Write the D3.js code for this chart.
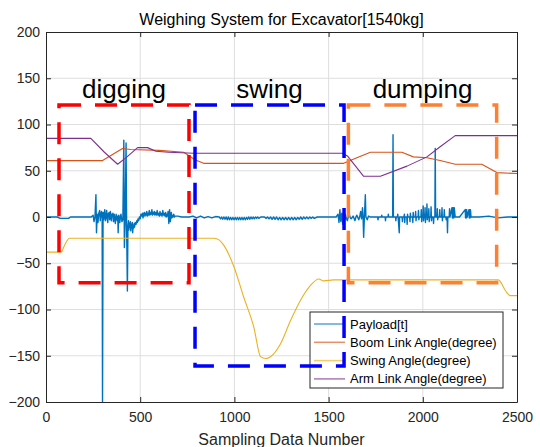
<!DOCTYPE html>
<html>
<head>
<meta charset="utf-8">
<script src="https://cdn.jsdelivr.net/npm/d3@7"></script>
<style>
  body { margin: 0; background: #fff; }
  svg { font-family: "Liberation Sans", Arial, sans-serif; }
</style>
</head>
<body>
<div id="chart"></div>
<script>
// ---- data ----
const title = 'Weighing System for Excavator[1540kg]';
const xLabel = 'Sampling Data Number';
const xTicks = [0, 500, 1000, 1500, 2000, 2500];
const yTicks = [-200, -150, -100, -50, 0, 50, 100, 150, 200];
const seriesNames = ['Payload[t]', 'Boom Link Angle(degree)', 'Swing Angle(degree)', 'Arm Link Angle(degree)'];
const seriesColors = ['#0072BD', '#D95319', '#EDB120', '#7E2F8E'];

const payload = [
  [0, 0], [60, 0], [75, -1.5], [120, -1.5], [130, 0], [240, 0], [250, 2], [255, -5], [260, 0],
  [265, 24], [268, -17], [272, 3], [276, -6], [280, 4], [285, 7], [288, -4], [291, 3], [295, 6],
  [298, -2], [300, -200], [303, 5], [306, -3], [308, 2], [312, 8], [315, -4], [318, -1], [322, 7],
  [325, -2], [328, -6], [331, 4], [333, 1], [336, 5], [338, -3], [342, 6], [345, -1], [347, -4],
  [350, 3], [352, 1], [355, 4], [358, -5], [362, 3], [365, -2], [368, -7], [372, 3], [375, -1],
  [378, -4], [381, 1], [383, -17], [386, 2], [389, -3], [392, -6], [395, 1], [398, 3], [403, -5],
  [408, -3], [413, 83], [416, -33], [420, -8], [425, 80], [428, -12], [432, -80], [435, -10],
  [438, -4], [440, -14], [443, -7], [445, -11], [448, -5], [450, -15], [453, -8], [455, -12],
  [458, -6], [460, -17], [463, -9], [465, -12], [468, -7], [470, -11], [474, -6], [478, -8],
  [482, -4], [485, -6], [488, -2], [492, -4], [496, 0], [500, -2], [504, 3], [508, 1], [512, 4],
  [515, -1], [518, 3], [522, 5], [525, 1], [528, 4], [532, 2], [535, 6], [538, 1], [542, 4],
  [545, 2], [548, 7], [552, 2], [555, 5], [558, 3], [562, 8], [565, 2], [568, 5], [572, 3],
  [575, 6], [578, 2], [582, 5], [586, 2], [590, 7], [594, 2], [598, 4], [602, 1], [605, 6],
  [608, 2], [612, 4], [616, 1], [620, 7], [624, 2], [628, 4], [632, 1], [635, 5], [638, 0],
  [642, 3], [645, 1], [648, 6], [652, -7], [656, 8], [660, -5], [663, 2], [665, 5], [668, -1],
  [670, 2], [674, 0], [678, 3], [682, 0], [685, 1], [700, 1], [720, 0], [760, 0], [780, 1],
  [800, -1], [820, 1], [840, -1], [860, 0.5], [880, -1], [900, 0.5], [920, 0], [926, -2],
  [932, 0], [938, -2.5], [944, 0], [950, -2.5], [956, 0], [962, -3], [968, 0], [974, -3],
  [980, -0.5], [986, -3], [992, -0.5], [998, -3], [1004, -0.5], [1010, -3], [1016, -0.5],
  [1022, -3], [1028, -0.5], [1034, -3], [1040, -0.5], [1046, -3], [1052, -0.5], [1058, -3],
  [1064, -0.5], [1070, -2.5], [1076, 0], [1082, -2.5], [1088, 0], [1094, -2], [1100, 0],
  [1106, -2], [1112, 0], [1118, -1.5], [1124, 0], [1130, -1.5], [1140, 0], [1160, 0], [1168, -1.5],
  [1176, 0], [1184, -2], [1192, 0], [1200, -2.5], [1208, 0], [1216, -2.5], [1224, 0], [1232, -3],
  [1240, -0.5], [1248, -3], [1256, -0.5], [1264, -3], [1272, -0.5], [1280, -3], [1288, -0.5],
  [1296, -3], [1304, -0.5], [1312, -3], [1320, -0.5], [1328, -3], [1336, -0.5], [1344, -2.5],
  [1352, 0], [1360, -2.5], [1368, 0], [1376, -2], [1384, 0], [1392, -2], [1400, 0], [1408, -1.5],
  [1416, 0], [1424, -1.5], [1440, 0], [1500, 0], [1540, 0], [1550, 3], [1553, -2], [1555, -6],
  [1558, 2], [1560, 8], [1563, -1], [1565, -5], [1568, 1], [1570, 4], [1573, -2], [1575, -8],
  [1578, 1], [1580, 6], [1583, 0], [1585, -3], [1588, 3], [1590, 2], [1595, -2], [1600, -4],
  [1605, 1], [1610, 3], [1615, -1], [1620, -2], [1630, 1], [1640, -4], [1645, 0], [1650, 2],
  [1660, -3], [1665, 0], [1670, 6], [1675, -2], [1680, 10], [1683, 0], [1686, -22], [1690, 0],
  [1695, 24], [1698, 0], [1705, -3], [1712, 1], [1720, 0],
  [1760, 0], [1762, -3], [1765, 0], [1780, 0], [1782, 2], [1784, 0], [1800, 0], [1802, -4],
  [1804, 0], [1815, 0], [1817, 3], [1819, 0], [1840, 0], [1842, 89], [1844, 0], [1855, 0],
  [1857, -4], [1859, 0], [1865, 0], [1867, 3], [1869, 0], [1875, -17], [1877, 0], [1890, 0],
  [1892, -5], [1894, 0], [1900, 0], [1902, 3], [1904, -6], [1906, 0], [1915, 0], [1917, -8],
  [1919, 3], [1921, 0], [1930, 0], [1932, -5], [1934, 4], [1936, 0], [1945, 0], [1947, -6],
  [1949, 5], [1951, 0], [1960, 0], [1962, 6], [1964, -4], [1966, 0], [1975, 0], [1977, 7],
  [1979, -3], [1981, 0], [1990, 0], [1992, 8], [1994, -5], [1996, 0], [2000, 0], [2002, 12],
  [2004, -4], [2006, 0], [2010, 0], [2012, 10], [2014, -6], [2016, 0], [2020, 0], [2022, 14],
  [2024, -3], [2026, 0], [2030, 0], [2032, 9], [2034, -5], [2036, 0], [2042, 0], [2044, 11],
  [2046, -4], [2048, 0], [2055, 0], [2057, -7], [2059, 0], [2064, 0], [2066, 74], [2068, 0],
  [2075, 0], [2077, 9], [2079, -3], [2081, 0], [2088, 0], [2090, 8], [2092, 0], [2100, 0],
  [2102, 10], [2104, -4], [2106, 0], [2112, 0], [2114, 8], [2116, 0], [2122, 0], [2124, -3],
  [2126, 0], [2129, 0], [2131, -17], [2133, 0], [2140, 0], [2142, 9], [2144, 0],
  [2155, 10], [2157, -1], [2159, 10], [2161, -1], [2163, 10], [2165, -1], [2167, 10], [2172, 0],
  [2195, 0], [2225, 8], [2227, -1], [2229, 8], [2231, -1], [2233, 8], [2236, 0], [2245, 8],
  [2247, -1], [2249, 8], [2251, -1], [2253, 8], [2256, 0], [2300, 0], [2350, 1], [2400, -1],
  [2450, 0], [2500, 0]
];

const boom = [
  [0, 61], [300, 61], [340, 66], [406, 74], [450, 73], [600, 72], [731, 70], [790, 62], [837, 58],
  [1580, 58], [1650, 64], [1722, 70], [1889, 70], [1950, 65], [2022, 64], [2092, 61], [2172, 57],
  [2313, 57], [2393, 48], [2500, 47]
];

const swing = [
  [0, -38], [79, -38], [100, -30], [124, -23], [891, -23], [920, -25], [945, -31], [998, -54],
  [1050, -87], [1103, -119], [1139, -151], [1165, -153], [1192, -151], [1245, -137], [1298, -112],
  [1351, -90], [1404, -74], [1448, -67], [1474, -69], [1527, -68], [2401, -68], [2440, -80],
  [2463, -85], [2500, -85]
];

const arm = [
  [0, 85], [238, 85], [310, 70], [380, 57], [430, 65], [486, 75], [539, 75], [583, 71], [650, 70],
  [784, 69], [1572, 69], [1600, 66], [1686, 44], [1775, 44], [1916, 55], [2022, 65], [2092, 76],
  [2172, 88], [2500, 88]
];

const phases = ['digging', 'swing', 'dumping'];
const phaseColors = ['#FF0000', '#0000FF', '#FF8033'];
const phaseX = [[69, 759], [791, 1582], [1605, 2392]];
const phaseY = [[-71, 121], [-161, 121], [-71, 121]];

// ---- layout ----
const width = 540, height = 447;
const margin = { top: 32, right: 23, bottom: 45, left: 46 };
const innerW = width - margin.left - margin.right;
const innerH = height - margin.top - margin.bottom;

const svg = d3.select('#chart').append('svg')
  .attr('width', width)
  .attr('height', height);

const x = d3.scaleLinear().domain([0, 2500]).range([margin.left, margin.left + innerW]);
const y = d3.scaleLinear().domain([-200, 200]).range([margin.top + innerH, margin.top]);

// grid
svg.append('g').selectAll('line').data(xTicks.slice(1, -1)).enter().append('line')
  .attr('x1', d => x(d)).attr('x2', d => x(d))
  .attr('y1', y(-200)).attr('y2', y(200))
  .attr('stroke', '#dedede').attr('stroke-width', 1);
svg.append('g').selectAll('line').data(yTicks.slice(1, -1)).enter().append('line')
  .attr('x1', x(0)).attr('x2', x(2500))
  .attr('y1', d => y(d)).attr('y2', d => y(d))
  .attr('stroke', '#dedede').attr('stroke-width', 1);

// series
const line = d3.line().x(d => x(d[0])).y(d => y(d[1]));
const smooth = d3.line().x(d => x(d[0])).y(d => y(d[1])).curve(d3.curveMonotoneX);
const allSeries = [payload, boom, swing, arm];
allSeries.forEach((s, i) => {
  svg.append('path')
    .datum(s)
    .attr('d', i === 2 ? smooth : line)
    .attr('fill', 'none')
    .attr('stroke', seriesColors[i])
    .attr('stroke-width', i === 0 ? 1.4 : 1.1)
    .attr('stroke-linejoin', 'round');
});

// axes (MATLAB style: inward ticks, box)
const axisColor = '#262626';
svg.append('g')
  .attr('transform', `translate(0,${y(-200)})`)
  .call(d3.axisBottom(x).tickValues(xTicks).tickFormat(d3.format('d'))
    .tickSizeInner(-5).tickSizeOuter(0).tickPadding(10));
svg.append('g')
  .attr('transform', `translate(${x(0)},0)`)
  .call(d3.axisLeft(y).tickValues(yTicks).tickFormat(d3.format('d'))
    .tickSizeInner(-5).tickSizeOuter(0).tickPadding(6));
svg.append('g')
  .attr('transform', `translate(0,${y(200)})`)
  .call(d3.axisTop(x).tickValues(xTicks).tickSizeInner(-5).tickSizeOuter(0).tickFormat(''));
svg.append('g')
  .attr('transform', `translate(${x(2500)},0)`)
  .call(d3.axisRight(y).tickValues(yTicks).tickSizeInner(-5).tickSizeOuter(0).tickFormat(''));

svg.selectAll('.domain, .tick line').attr('stroke', axisColor);
svg.selectAll('.tick text')
  .attr('fill', axisColor)
  .style('font-family', '"Liberation Sans", Arial, sans-serif')
  .style('font-size', '14px');

// title + axis label
svg.append('text')
  .attr('x', x(1250)).attr('y', 25)
  .attr('text-anchor', 'middle')
  .style('font-size', '16px')
  .attr('fill', '#000')
  .text(title);

svg.append('text')
  .attr('x', x(1250)).attr('y', 445)
  .attr('text-anchor', 'middle')
  .style('font-size', '16px')
  .attr('fill', axisColor)
  .text(xLabel);

// legend
const legend = svg.append('g').attr('transform', 'translate(310,312)');
legend.append('rect')
  .attr('width', 193).attr('height', 76)
  .attr('fill', '#fff').attr('stroke', axisColor).attr('stroke-width', 1);
seriesNames.forEach((name, i) => {
  const row = legend.append('g').attr('transform', `translate(0,${12 + i * 18.3})`);
  row.append('line')
    .attr('x1', 4).attr('x2', 35)
    .attr('stroke', seriesColors[i]).attr('stroke-opacity', 0.65).attr('stroke-width', 1.5);
  row.append('text')
    .attr('x', 40).attr('dy', '0.35em')
    .style('font-size', '13px')
    .attr('fill', '#000')
    .text(name);
});

// dashed phase boxes + labels
phases.forEach((p, i) => {
  const [x0, x1] = phaseX[i].map(x);
  const [yb, yt] = phaseY[i].map(y);
  svg.append('path')
    .attr('d', `M${x0},${yt}H${x1}V${yb}H${x0}Z`)
    .attr('fill', 'none')
    .attr('stroke', phaseColors[i])
    .attr('stroke-width', 3.5)
    .attr('stroke-dasharray', '22,14');
  svg.append('text')
    .attr('x', (x0 + x1) / 2).attr('y', 98)
    .attr('text-anchor', 'middle')
    .style('font-size', '26px')
    .attr('fill', '#000')
    .text(p);
});
</script>
</body>
</html>
